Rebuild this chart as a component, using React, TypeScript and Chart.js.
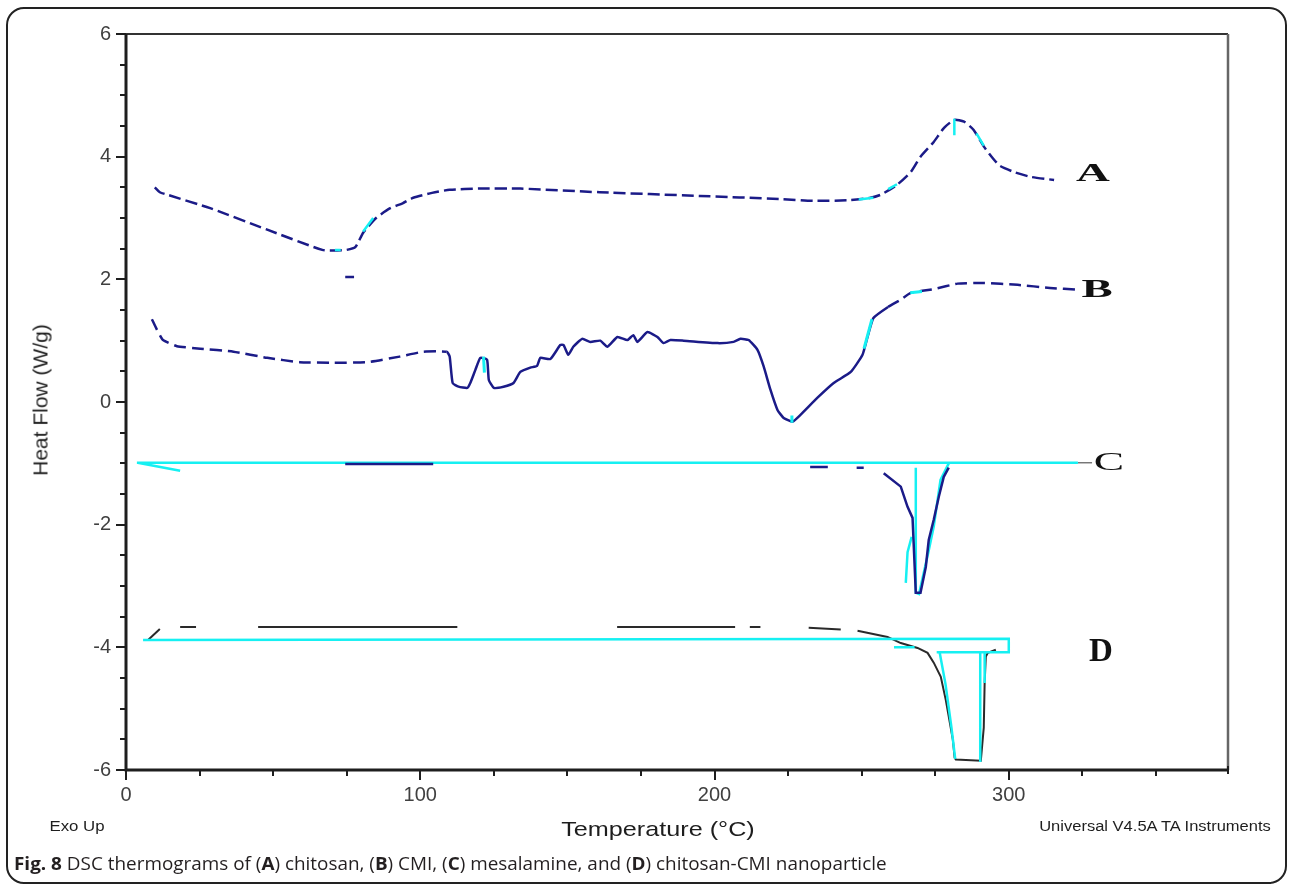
import React, { useEffect, useRef } from 'react';
import { Chart, registerables } from 'chart.js';

Chart.register(...registerables);

// ---------- axis ranges / tick labels ----------
const X_MIN = 0;
const X_MAX = 374.5;
const Y_MIN = -6;
const Y_MAX = 6;
const X_LABEL_STEP = 100;
const Y_LABEL_STEP = 2;
const X_MINOR_STEP = 25;
const Y_MINOR_STEP = 0.5;

// ---------- curve A (chitosan) ----------
const aTemp = [9.8, 11.5, 14, 28.6, 48, 66.7, 71.7, 75, 78, 80.6, 85, 89.8, 94, 97.6, 104, 110, 120, 134, 161, 195, 222, 234, 246, 253, 256.5, 262, 266.7, 270, 274.5, 278, 281.5, 284.8, 288, 291.6, 295, 297, 301.8, 307.5, 315.4, 315.4, 74.5, 77.5];
const aHeat = [3.5, 3.42, 3.38, 3.16, 2.81, 2.48, 2.47, 2.48, 2.53, 2.76, 3.0, 3.16, 3.24, 3.33, 3.41, 3.46, 3.48, 3.48, 3.42, 3.36, 3.31, 3.28, 3.29, 3.33, 3.38, 3.54, 3.75, 4.0, 4.24, 4.47, 4.6, 4.57, 4.44, 4.16, 3.95, 3.85, 3.75, 3.67, 3.62, null, 2.04, 2.04];
const aCyanTemp = [71, 73, 73, 80.6, 84, 84, 249, 254, 254, 259, 262, 262, 281.5, 281.5, 281.5, 289, 291.5];
const aCyanHeat = [2.48, 2.48, null, 2.78, 3.0, null, 3.3, 3.33, null, 3.47, 3.55, null, 4.62, 4.35, null, 4.38, 4.18];

// ---------- curve B (CMI) ----------
const bTemp = [8.8, 10.5, 12.6, 17.3, 25.2, 36.5, 48, 59, 70.5, 82, 93, 101, 109, 110, 111, 113, 116, 117, 118.7, 120.4, 122.7, 123.3, 125, 128.3, 131.7, 134, 137.4, 139.7, 140.8, 144.2, 147.6, 148.7, 150.3, 152, 155, 157.8, 161.2, 163.6, 167, 170.4, 172.4, 173.8, 177.2, 180.6, 182.7, 185, 189.5, 201, 206.5, 208.8, 211.6, 214.6, 216.7, 219, 221.4, 223.5, 226.5, 229.2, 235, 240.5, 246.3, 250.3, 252, 254, 259, 263, 266.7, 274.5, 282.6, 291.5, 303, 314, 323.5];
const bHeat = [1.35, 1.18, 1.01, 0.91, 0.87, 0.82, 0.72, 0.65, 0.64, 0.65, 0.74, 0.82, 0.82, 0.74, 0.31, 0.25, 0.23, 0.31, 0.52, 0.72, 0.69, 0.36, 0.23, 0.25, 0.31, 0.49, 0.56, 0.59, 0.72, 0.7, 0.93, 0.93, 0.77, 0.9, 1.03, 0.98, 1.0, 0.9, 1.06, 1.01, 1.09, 0.98, 1.14, 1.06, 0.96, 1.01, 1.0, 0.96, 0.98, 1.03, 1.01, 0.85, 0.58, 0.2, -0.13, -0.26, -0.32, -0.21, 0.07, 0.31, 0.49, 0.77, 1.06, 1.37, 1.55, 1.66, 1.78, 1.84, 1.93, 1.94, 1.91, 1.86, 1.83];
const bCyanTemp = [121.5, 121.8, 121.8, 226.3, 226.3, 226.3, 250.8, 253.5, 253.5, 266.5, 270.5];
const bCyanHeat = [0.74, 0.48, null, -0.34, -0.22, null, 0.87, 1.35, null, 1.78, 1.8];

// ---------- curve C (mesalamine) ----------
const cNavyTemp = [74.5, 104.4, 104.4, 232.5, 238.5, 238.5, 248.3, 250.7, 250.7, 257.5, 263.3, 265.6, 267.3, 268.4, 270, 271.8, 272.8, 274.5, 276.2, 277.9, 279.6];
const cNavyHeat = [-1.01, -1.01, null, -1.06, -1.06, null, -1.07, -1.07, null, -1.16, -1.38, -1.71, -1.89, -3.11, -3.11, -2.69, -2.25, -1.92, -1.55, -1.22, -1.07];
const cCyanTemp = [3.7, 323.5, 323.5, 4, 18.4, 18.4, 279.6, 276.8, 274.5, 272.8, 269.5, 268.4, 268.4, 268.4, 267, 265.6, 265];
const cCyanHeat = [-0.99, -0.99, null, -0.99, -1.12, null, -1.0, -1.27, -2.03, -2.42, -3.13, -3.11, -1.07, null, -2.2, -2.45, -2.95];
const cLeadTemp = [323.5, 328.3];
const cLeadHeat = [-0.99, -0.99];

// ---------- curve D (chitosan-CMI nanoparticle) ----------
const dTemp = [7.5, 11.5, 11.5, 18.4, 23.8, 23.8, 44.9, 112.6, 112.6, 166.9, 207, 207, 212, 215.6, 215.6, 232, 242.9, 242.9, 248.6, 258.8, 263.3, 269, 272.4, 274.5, 276.9, 278.6, 279.6, 281, 281.6, 282, 290.5, 291.5, 291.8, 292.2, 292.9, 295.6];
const dHeat = [-3.88, -3.7, null, -3.67, -3.67, null, -3.67, -3.67, null, -3.67, -3.67, null, -3.67, -3.67, null, -3.68, -3.71, null, -3.73, -3.83, -3.93, -4.01, -4.09, -4.25, -4.48, -4.86, -5.13, -5.51, -5.8, -5.83, -5.85, -5.31, -4.58, -4.15, -4.09, -4.04];
const dCyanTemp = [5.8, 300, 300, 275.5, 275.5, 276.5, 278.5, 280.5, 281.8, 281.8, 290.3, 290.3, 290.3, 291.8, 291.8, 291.8, 261, 268];
const dCyanHeat = [-3.88, -3.86, -4.08, -4.08, null, -4.08, -4.6, -5.3, -5.82, null, -4.08, -5.87, null, -4.08, -4.58, null, -4.0, -4.0];

// ---------- curve letters ----------
const curveLetters = ['A', 'B', 'C', 'D'];
const letterTemp = [328.6, 330, 334, 331.3];
const letterHeat = [3.73, 1.84, -0.98, -4.07];

const NAVY = '#1b1b88';
const CYAN = '#16f0f2';

function pts(xs: number[], ys: (number | null)[]) {
  return xs.map((x, i) => ({ x, y: ys[i] }));
}

const framePlugin = {
  id: 'frame',
  afterDraw(chart: any) {
    const { ctx, chartArea } = chart;
    const { left, right, top, bottom } = chartArea;
    const xs = chart.scales.x;
    const ys = chart.scales.y;
    ctx.save();
    // top and right border
    ctx.strokeStyle = '#333';
    ctx.lineWidth = 2;
    ctx.beginPath();
    ctx.moveTo(left, top);
    ctx.lineTo(right, top);
    ctx.stroke();
    ctx.strokeStyle = '#666';
    ctx.lineWidth = 2.5;
    ctx.beginPath();
    ctx.moveTo(right, top);
    ctx.lineTo(right, bottom);
    ctx.stroke();
    // axes
    ctx.strokeStyle = '#1e1e1e';
    ctx.lineWidth = 3;
    ctx.beginPath();
    ctx.moveTo(left, top);
    ctx.lineTo(left, bottom);
    ctx.lineTo(right, bottom);
    ctx.stroke();
    // y ticks
    ctx.lineWidth = 2;
    for (let v = Y_MIN; v <= Y_MAX + 1e-9; v += Y_MINOR_STEP) {
      const py = Math.round(ys.getPixelForValue(v));
      const major = Math.abs(v / Y_LABEL_STEP - Math.round(v / Y_LABEL_STEP)) < 1e-6;
      ctx.beginPath();
      ctx.moveTo(left, py);
      ctx.lineTo(left - (major ? 10 : 6), py);
      ctx.stroke();
    }
    // x ticks
    for (let v = X_MIN; v <= X_MAX + 1e-9; v += X_MINOR_STEP) {
      const px = Math.round(xs.getPixelForValue(v));
      const major = Math.abs(v / X_LABEL_STEP - Math.round(v / X_LABEL_STEP)) < 1e-6;
      ctx.beginPath();
      ctx.moveTo(px, bottom);
      ctx.lineTo(px, bottom + (major ? 10 : 6));
      ctx.stroke();
    }
    // end tick on x axis
    ctx.beginPath();
    ctx.moveTo(right, bottom - 4);
    ctx.lineTo(right, bottom + 4);
    ctx.stroke();

    // curve letters
    ctx.fillStyle = '#111';
    ctx.textAlign = 'center';
    ctx.textBaseline = 'middle';
    curveLetters.forEach((t, i) => {
      const px = xs.getPixelForValue(letterTemp[i]);
      const py = ys.getPixelForValue(letterHeat[i]);
      ctx.save();
      ctx.translate(px, py);
      if (t === 'D') {
        ctx.font = 'bold 33px "Liberation Serif", "Times New Roman", serif';
      } else if (t === 'C') {
        ctx.font = '26px "Liberation Serif", "Times New Roman", serif';
        ctx.scale(1.75, 1);
      } else {
        ctx.font = 'bold 26px "Liberation Serif", "Times New Roman", serif';
        ctx.scale(1.8, 1);
      }
      ctx.fillText(t, 0, 1);
      ctx.restore();
    });
    ctx.restore();
  },
};

export default function App() {
  const canvasRef = useRef<HTMLCanvasElement | null>(null);

  useEffect(() => {
    const canvas = canvasRef.current;
    if (!canvas) return;
    const line = (data: any, color: string, width: number, extra: any = {}) => ({
      data,
      borderColor: color,
      backgroundColor: color,
      borderWidth: width,
      pointRadius: 0,
      fill: false,
      spanGaps: false,
      tension: 0,
      ...extra,
    });
    const dashOuter = (lo: number, hi: number) => ({
      borderDash: (c: any) => (c.p0.parsed.x < lo || c.p0.parsed.x > hi ? [12, 6] : undefined),
    });
    const chart = new Chart(canvas, {
      type: 'line',
      data: {
        datasets: [
          line(pts(aCyanTemp, aCyanHeat), CYAN, 2.5),
          line(pts(bCyanTemp, bCyanHeat), CYAN, 3),
          line(pts(cNavyTemp, cNavyHeat), NAVY, 2.5),
          line(pts(cCyanTemp, cCyanHeat), CYAN, 2.5),
          line(pts(cLeadTemp, cLeadHeat), '#777', 1.5),
          line(pts(dCyanTemp, dCyanHeat), CYAN, 2.5),
          line(pts(aTemp, aHeat), NAVY, 2.5, { tension: 0.2, borderDash: [12, 5] }),
          line(pts(bTemp, bHeat), NAVY, 2.5, { tension: 0.15, segment: dashOuter(105, 258) }),
          line(pts(dTemp, dHeat), '#2a2a2a', 2),
        ] as any,
      },
      options: {
        animation: false,
        responsive: false,
        events: [],
        layout: { padding: { top: 34, right: 64, bottom: 0, left: 0 } },
        plugins: { legend: { display: false }, tooltip: { enabled: false }, title: { display: false } },
        scales: {
          x: {
            type: 'linear',
            min: X_MIN,
            max: X_MAX,
            grid: { display: false, drawTicks: false },
            border: { display: false },
            ticks: {
              stepSize: X_LABEL_STEP,
              includeBounds: false,
              padding: 13,
              color: '#404040',
              font: { family: '"Liberation Sans", Arial, sans-serif', size: 20 },
            },
            afterFit: (s: any) => { s.height = 115; },
          },
          y: {
            type: 'linear',
            min: Y_MIN,
            max: Y_MAX,
            grid: { display: false, drawTicks: false },
            border: { display: false },
            ticks: {
              stepSize: Y_LABEL_STEP,
              padding: 15,
              color: '#404040',
              font: { family: '"Liberation Sans", Arial, sans-serif', size: 20 },
            },
            afterFit: (s: any) => { s.width = 126; },
          },
        },
      } as any,
      plugins: [framePlugin],
    });
    return () => chart.destroy();
  }, []);

  const sans = '"Liberation Sans", Arial, sans-serif';
  const txt = (cx: number, cy: number, size: number, sx: number, content: any, color = '#1e1e1e', extra: any = {}) => (
    <div
      style={{
        position: 'absolute',
        left: cx,
        top: cy,
        transform: `translate(-50%, -50%) scaleX(${sx})`,
        fontFamily: sans,
        fontSize: size,
        lineHeight: 1,
        whiteSpace: 'nowrap',
        color,
        ...extra,
      }}
    >
      {content}
    </div>
  );

  return (
    <div style={{ position: 'absolute', left: 0, top: 0, width: 1292, height: 885, background: '#fff', overflow: 'hidden' }}>
      <div
        style={{
          position: 'absolute',
          left: 6,
          top: 7,
          width: 1281,
          height: 877,
          border: '2px solid #222',
          borderRadius: 18,
          boxSizing: 'border-box',
        }}
      />
      <canvas ref={canvasRef} width={1292} height={885} style={{ position: 'absolute', left: 0, top: 0, width: 1292, height: 885 }} />
      {txt(40, 400, 21, 1, 'Heat Flow (W/g)', '#1e1e1e', { transform: 'translate(-50%, -50%) rotate(-90deg)' })}
      {txt(658, 828, 21, 1.2, 'Temperature (°C)')}
      {txt(77, 826, 14, 1.2, 'Exo Up')}
      {txt(1155, 826, 14, 1.18, 'Universal V4.5A TA Instruments')}
      <div
        style={{
          position: 'absolute',
          left: 14,
          top: 854,
          fontFamily: '"Open Sans", "Noto Sans", sans-serif',
          fontSize: 18,
          lineHeight: 1.1,
          whiteSpace: 'nowrap',
          color: '#231f20',
          transform: 'scaleX(1.05)',
          transformOrigin: 'left center',
        }}
      >
        <b>Fig. 8</b> DSC thermograms of (<b>A</b>) chitosan, (<b>B</b>) CMI, (<b>C</b>) mesalamine, and (<b>D</b>) chitosan-CMI nanoparticle
      </div>
    </div>
  );
}
